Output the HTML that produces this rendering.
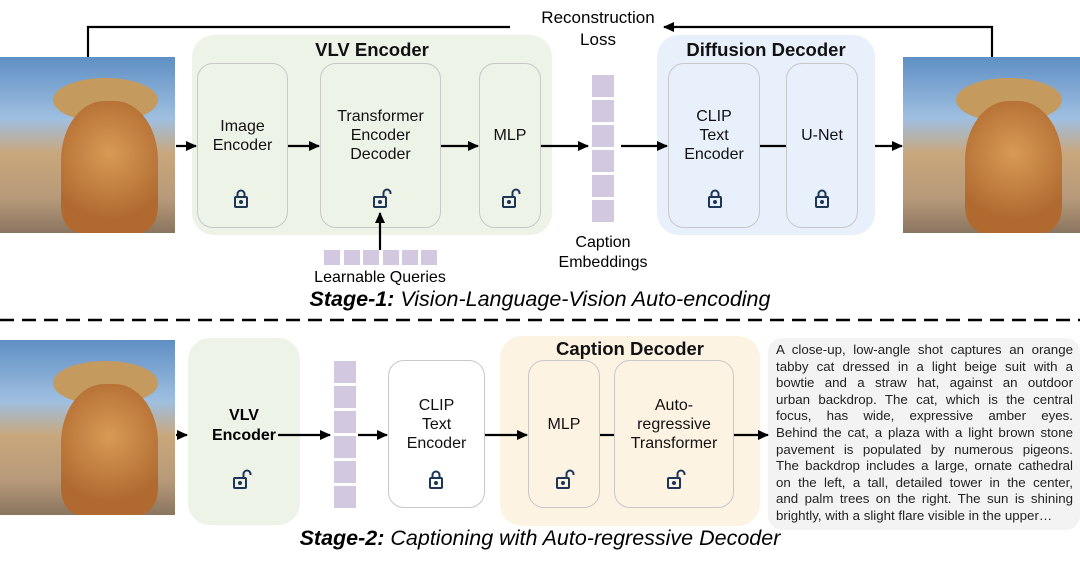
<!DOCTYPE html><html><head><style>
body{margin:0;width:1080px;height:563px;background:#fff;font-family:"Liberation Sans",sans-serif;position:relative;overflow:hidden}
.a{position:absolute}
.img{position:absolute;background:linear-gradient(180deg,#5f8fc4 0%,#9fbfe0 35%,#c9a77c 55%,#b89a7a 80%,#8a7560 100%);overflow:hidden}
.img .cat{position:absolute;left:35%;top:25%;width:55%;height:75%;border-radius:45% 45% 20% 20%;background:radial-gradient(circle at 50% 40%,#d89a55,#b06a30 70%)}
.img .hat{position:absolute;left:30%;top:12%;width:60%;height:25%;border-radius:50%;background:#c49a5e}
.g{position:absolute;border-radius:22px}
.b{position:absolute;border:1.5px solid #c8c8c8;border-radius:16px;box-sizing:border-box;display:flex;align-items:center;justify-content:center;text-align:center;font-size:16px;line-height:19px;color:#111}
.t{font-weight:bold;font-size:18.5px;text-align:center;color:#111}
.sq{position:absolute;background:#d2c8e0}
.p div{text-align:justify;text-align-last:justify;height:16.6px;white-space:nowrap}
</style></head><body>
<div class="img" style="left:0;top:57px;width:175px;height:176px"><div class="hat"></div><div class="cat"></div></div>
<div class="img" style="left:903px;top:57px;width:177px;height:176px"><div class="hat"></div><div class="cat"></div></div>
<div class="img" style="left:0;top:340px;width:175px;height:175px"><div class="hat"></div><div class="cat"></div></div>

<div class="a" style="left:500px;top:7px;width:196px;text-align:center;font-size:17px;line-height:22px">Reconstruction<br>Loss</div>

<div class="g" style="left:192px;top:35px;width:360px;height:200px;background:#eef3e8"></div>
<div class="a t" style="left:192px;top:39px;width:360px">VLV Encoder</div>
<div class="b" style="left:197px;top:63px;width:91px;height:165px;padding-bottom:20px">Image<br>Encoder</div>
<div class="b" style="left:320px;top:63px;width:121px;height:165px;padding-bottom:20px">Transformer<br>Encoder<br>Decoder</div>
<div class="b" style="left:479px;top:63px;width:62px;height:165px;padding-bottom:20px">MLP</div>

<div class="g" style="left:657px;top:35px;width:218px;height:200px;background:#e8f0fb"></div>
<div class="a t" style="left:657px;top:39px;width:218px">Diffusion Decoder</div>
<div class="b" style="left:668px;top:63px;width:92px;height:165px;padding-bottom:20px">CLIP<br>Text<br>Encoder</div>
<div class="b" style="left:786px;top:63px;width:72px;height:165px;padding-bottom:20px">U-Net</div>

<div class="sq" style="left:592px;top:75px;width:22px;height:22px"></div>
<div class="sq" style="left:592px;top:100px;width:22px;height:22px"></div>
<div class="sq" style="left:592px;top:125px;width:22px;height:22px"></div>
<div class="sq" style="left:592px;top:150px;width:22px;height:22px"></div>
<div class="sq" style="left:592px;top:175px;width:22px;height:22px"></div>
<div class="sq" style="left:592px;top:200px;width:22px;height:22px"></div>
<div class="a" style="left:543px;top:233px;width:120px;text-align:center;font-size:16px;line-height:20px">Caption<br>Embeddings</div>

<div class="sq" style="left:324px;top:250px;width:16px;height:15px"></div>
<div class="sq" style="left:344px;top:250px;width:16px;height:15px"></div>
<div class="sq" style="left:363px;top:250px;width:16px;height:15px"></div>
<div class="sq" style="left:383px;top:250px;width:16px;height:15px"></div>
<div class="sq" style="left:402px;top:250px;width:16px;height:15px"></div>
<div class="sq" style="left:421px;top:250px;width:16px;height:15px"></div>
<div class="a" style="left:290px;top:269px;width:180px;text-align:center;font-size:16px">Learnable Queries</div>
<div class="a" style="left:0;top:287px;width:1080px;text-align:center;font-size:21.5px;font-style:italic"><b>Stage-1:</b> Vision-Language-Vision Auto-encoding</div>

<div class="g" style="left:188px;top:338px;width:112px;height:187px;background:#eef3e8"></div>
<div class="a" style="left:188px;top:406px;width:112px;text-align:center;font-weight:bold;font-size:16px;line-height:20px">VLV<br>Encoder</div>
<div class="sq" style="left:334px;top:361px;width:22px;height:22px"></div>
<div class="sq" style="left:334px;top:386px;width:22px;height:22px"></div>
<div class="sq" style="left:334px;top:411px;width:22px;height:22px"></div>
<div class="sq" style="left:334px;top:436px;width:22px;height:22px"></div>
<div class="sq" style="left:334px;top:461px;width:22px;height:22px"></div>
<div class="sq" style="left:334px;top:486px;width:22px;height:22px"></div>
<div class="b" style="left:388px;top:360px;width:97px;height:148px;padding-bottom:20px;background:#fff">CLIP<br>Text<br>Encoder</div>
<div class="g" style="left:500px;top:336px;width:260px;height:190px;background:#fdf3e3"></div>
<div class="a t" style="left:500px;top:338px;width:260px">Caption Decoder</div>
<div class="b" style="left:528px;top:360px;width:72px;height:148px;padding-bottom:20px">MLP</div>
<div class="b" style="left:614px;top:360px;width:120px;height:148px;padding-bottom:20px">Auto-<br>regressive<br>Transformer</div>
<div class="a" style="left:768px;top:338px;width:312px;height:192px;background:#f3f3f3;border-radius:14px"></div>
<div class="a p" style="left:776px;top:342px;width:297px;font-size:13.3px;line-height:16.6px;color:#222">
<div>A close-up, low-angle shot captures an orange</div>
<div>tabby cat dressed in a light beige suit with a</div>
<div>bowtie and a straw hat, against an outdoor</div>
<div>urban backdrop. The cat, which is the central</div>
<div>focus, has wide, expressive amber eyes.</div>
<div>Behind the cat, a plaza with a light brown stone</div>
<div>pavement is populated by numerous pigeons.</div>
<div>The backdrop includes a large, ornate cathedral</div>
<div>on the left, a tall, detailed tower in the center,</div>
<div>and palm trees on the right. The sun is shining</div>
<div style="text-align-last:left">brightly, with a slight flare visible in the upper…</div>
</div>
<div class="a" style="left:0;top:526px;width:1080px;text-align:center;font-size:21.5px;font-style:italic"><b>Stage-2:</b> Captioning with Auto-regressive Decoder</div>

<svg class="a" style="left:0;top:0" width="1080" height="563">
<defs><marker id="ar" markerWidth="11" markerHeight="10" refX="10" refY="5" orient="auto" markerUnits="userSpaceOnUse"><path d="M0,0 L11,5 L0,10z" fill="#000"/></marker></defs>
<g stroke="#000" stroke-width="2.2" fill="none">
<path d="M88,57 V27 H510"/><path d="M992,57 V27 H664" marker-end="url(#ar)"/>
<path d="M176,146 H196" marker-end="url(#ar)"/>
<path d="M288,146 H319" marker-end="url(#ar)"/>
<path d="M441,146 H478" marker-end="url(#ar)"/>
<path d="M541,146 H588" marker-end="url(#ar)"/>
<path d="M621,146 H667" marker-end="url(#ar)"/>
<path d="M760,146 H786"/>
<path d="M875,146 H902" marker-end="url(#ar)"/>
<path d="M380,250 V213" marker-end="url(#ar)"/>
<path d="M176,435 H187" marker-end="url(#ar)"/>
<path d="M278,435 H330" marker-end="url(#ar)"/>
<path d="M358,435 H387" marker-end="url(#ar)"/>
<path d="M485,435 H527" marker-end="url(#ar)"/>
<path d="M600,435 H614"/>
<path d="M734,435 H768" marker-end="url(#ar)"/>
<path d="M0,320 H1080" stroke-dasharray="14,8" stroke-width="2.5"/>
</g>
<g fill="none" stroke="#1d3557" stroke-width="2">
<rect x="235" y="197" width="12" height="10" rx="1"/><path d="M237.5,197 v-3 a3.5,3.5 0 0 1 7,0 v3"/><circle cx="241" cy="202" r="1" fill="#1d3557"/>
<rect x="709" y="197" width="12" height="10" rx="1"/><path d="M711.5,197 v-3 a3.5,3.5 0 0 1 7,0 v3"/><circle cx="715" cy="202" r="1" fill="#1d3557"/>
<rect x="816" y="197" width="12" height="10" rx="1"/><path d="M818.5,197 v-3 a3.5,3.5 0 0 1 7,0 v3"/><circle cx="822" cy="202" r="1" fill="#1d3557"/>
<rect x="430" y="478" width="12" height="10" rx="1"/><path d="M432.5,478 v-3 a3.5,3.5 0 0 1 7,0 v3"/><circle cx="436" cy="483" r="1" fill="#1d3557"/>
<rect x="374" y="197" width="12" height="10" rx="1"/><path d="M383.5,197 v-4 a3.5,3.5 0 0 1 7,0 v1"/><circle cx="380" cy="202" r="1" fill="#1d3557"/>
<rect x="503" y="197" width="12" height="10" rx="1"/><path d="M512.5,197 v-4 a3.5,3.5 0 0 1 7,0 v1"/><circle cx="509" cy="202" r="1" fill="#1d3557"/>
<rect x="234" y="478" width="12" height="10" rx="1"/><path d="M243.5,478 v-4 a3.5,3.5 0 0 1 7,0 v1"/><circle cx="240" cy="483" r="1" fill="#1d3557"/>
<rect x="557" y="478" width="12" height="10" rx="1"/><path d="M566.5,478 v-4 a3.5,3.5 0 0 1 7,0 v1"/><circle cx="563" cy="483" r="1" fill="#1d3557"/>
<rect x="668" y="478" width="12" height="10" rx="1"/><path d="M677.5,478 v-4 a3.5,3.5 0 0 1 7,0 v1"/><circle cx="674" cy="483" r="1" fill="#1d3557"/>
</g>
</svg>
</body></html>
